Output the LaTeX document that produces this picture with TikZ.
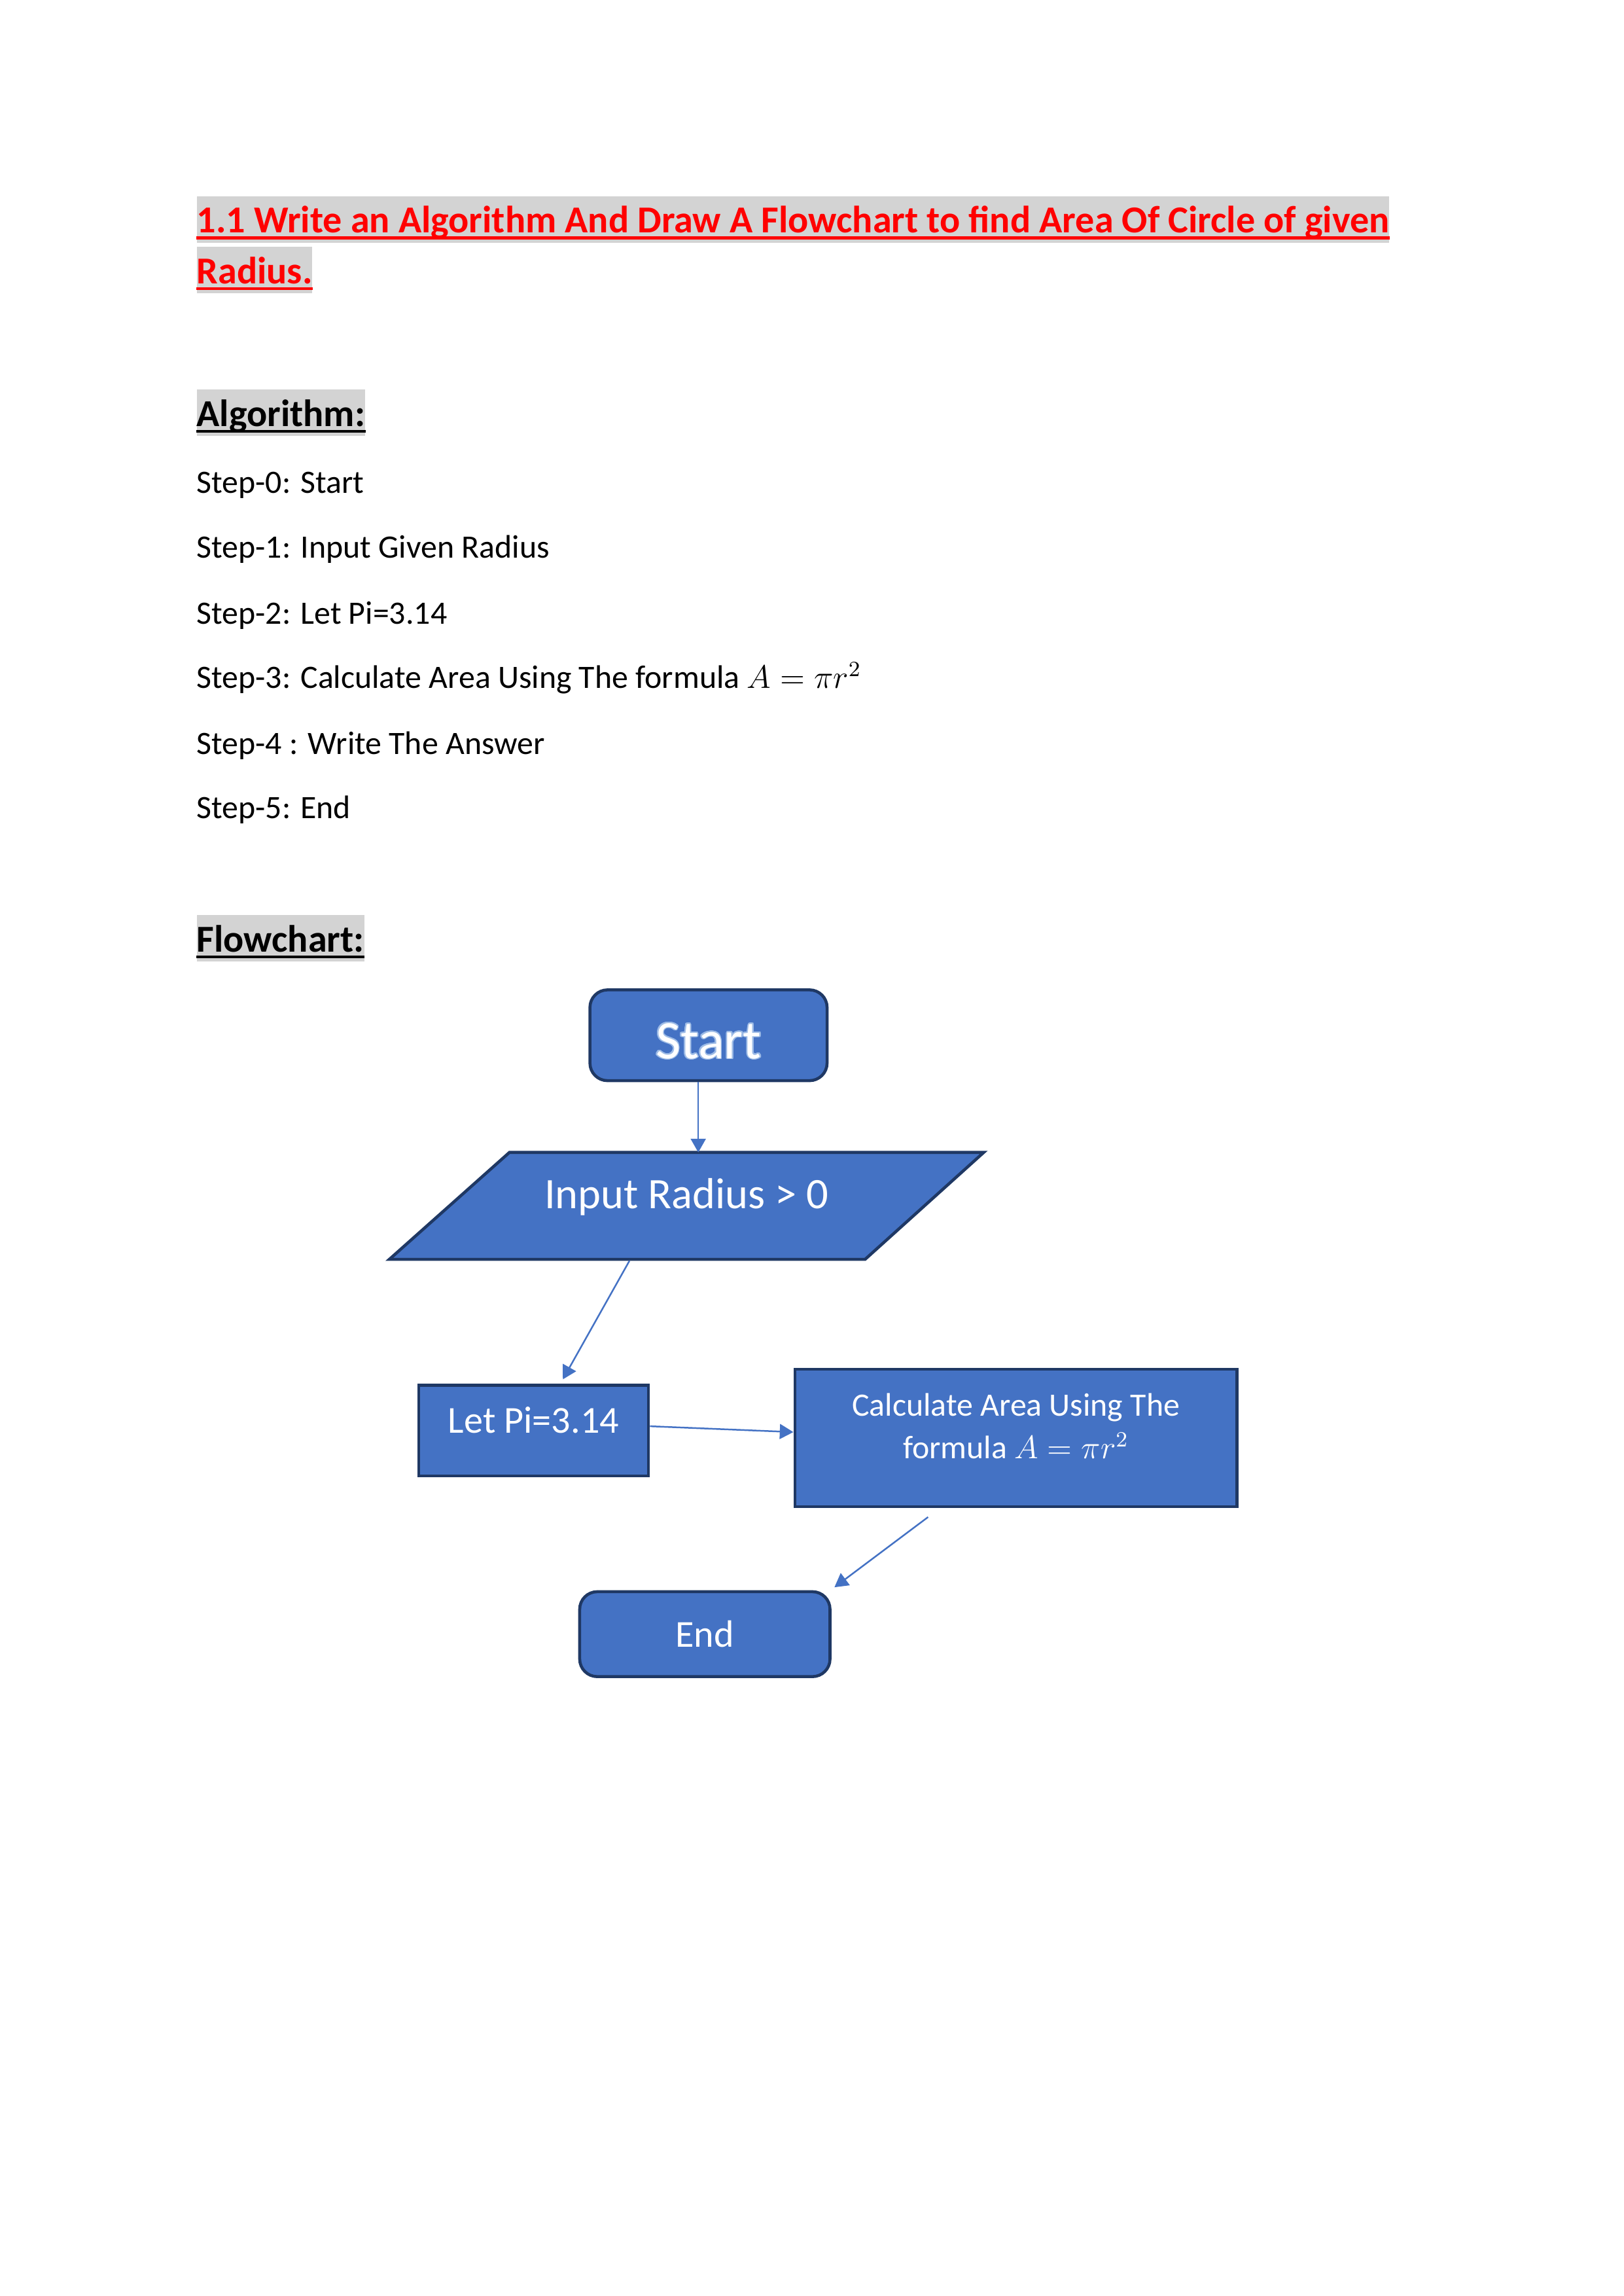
\documentclass[tikz,border=0pt]{standalone}
\usepackage{fontspec}
\setmainfont{Carlito}
\usepackage{contour}
\usetikzlibrary{calc,arrows.meta}

\definecolor{boxblue}{HTML}{4472C4}
\definecolor{boxline}{HTML}{1F3864}
\definecolor{hlgray}{HTML}{D3D3D3}
\definecolor{glowblue}{HTML}{9DBBE6}

\newlength\pxu
\setlength\pxu{0.018936cm}
\contourlength{0.45pt}

\tikzset{
  hltext/.style={fill=hlgray, inner sep=0pt, text height=13.5pt, text depth=3.6pt, anchor=base west, font=\fontsize{14}{17}\selectfont\bfseries},
  steptext/.style={anchor=base west, inner sep=0pt, font=\fontsize{12}{14}\selectfont},
  flowbox/.style={draw=boxline, line width=1.1pt, fill=boxblue, text=white, inner sep=0pt},
  term/.style={flowbox, rounded corners=12\pxu},
  flowarrow/.style={draw=boxblue, line width=0.6pt, -{Triangle[length=5pt,width=5.5pt]}},
}

\begin{document}
\begin{tikzpicture}[x=0.018936cm, y=-0.018936cm]
 \useasboundingbox (0,0) rectangle (1109,1568);
 % title
 \node[hltext, text=red] (ttlA) at (134,159) {1.1 Write an Algorithm And Draw A Flowchart to find Area Of Circle of given};
 \node[hltext, text=red] (ttlB) at (134,193.6) {Radius.};
 \draw[red, line width=1pt] ($(ttlA.base west)+(0,3.5)$) -- ($(ttlA.base east)+(0,3.5)$);
 \draw[red, line width=1pt] ($(ttlB.base west)+(0,3.5)$) -- ($(ttlB.base east)+(0,3.5)$);
 % algorithm
 \node[hltext] (algo) at (134,291) {Algorithm:};
 \draw[line width=1pt] ($(algo.base west)+(0,3.5)$) -- ($(algo.base east)+(0,3.5)$);
 \node[steptext] (s0) at (134,337) {Step-0: Start};
 \node[steptext] (s1) at (134,381) {Step-1: Input Given Radius};
 \node[steptext] (s2) at (134,426) {Step-2: Let Pi=3.14};
 \node[steptext] (s3) at (134,470) {Step-3: Calculate Area Using The formula $A=\pi r^2$};
 \node[steptext] (s4) at (134,515) {Step-4 : Write The Answer};
 \node[steptext] (s5) at (134,559) {Step-5: End};
 % flowchart
 \node[hltext] (flow) at (134,650) {Flowchart:};
 \draw[line width=1pt] ($(flow.base west)+(0,3.5)$) -- ($(flow.base east)+(0,3.5)$);
 \node[term, minimum width=162\pxu, minimum height=62\pxu, text height=17pt, text depth=0pt, font=\fontsize{20}{24}\selectfont] (st) at (484,707) {\contour{glowblue}{Start}};
 % input parallelogram
 \coordinate (inpC) at (469,823.5);
 \draw[flowbox] ($(inpC)+(-121,-36.5)$) -- ($(inpC)+(203,-36.5)$) -- ($(inpC)+(122,36.5)$) -- ($(inpC)+(-203,36.5)$) -- cycle;
 \node[text=white, inner sep=0pt, text height=9pt, text depth=7pt, font=\fontsize{16}{19}\selectfont] (inp) at (inpC) {Input Radius > 0};
 \node[flowbox, minimum width=157\pxu, minimum height=62\pxu, text height=9pt, text depth=7pt, font=\fontsize{14}{17}\selectfont] (pi) at (364.5,977) {Let Pi=3.14};
 \node[flowbox, minimum width=302\pxu, minimum height=94\pxu] (calc) at (694,982) {};
 \node[text=white, inner sep=0pt, align=center, font=\fontsize{12}{15.6}\selectfont] (calcTxt) at ($(calc.center)+(0,-8)$) {Calculate Area Using The\\formula $A=\pi r^2$};
 \node[term, minimum width=171\pxu, minimum height=58\pxu, font=\fontsize{14}{17}\selectfont] (end) at (481.5,1116) {End};
 \draw[flowarrow] ($(st.south)+(-7,0)$) -- ($(inpC)+(8,-36.5)$);
 \draw[flowarrow] ($(inpC)+(-39,37.5)$) -- ($(pi.north)+(20,-3)$);
 \draw[flowarrow] ($(pi.east)+(0,-3)$) -- ($(calc.west)+(0,-4)$);
 \draw[flowarrow] ($(calc.south)+(-60,6)$) -- ($(end.north east)+(2,-2)$);
\end{tikzpicture}
\end{document}
